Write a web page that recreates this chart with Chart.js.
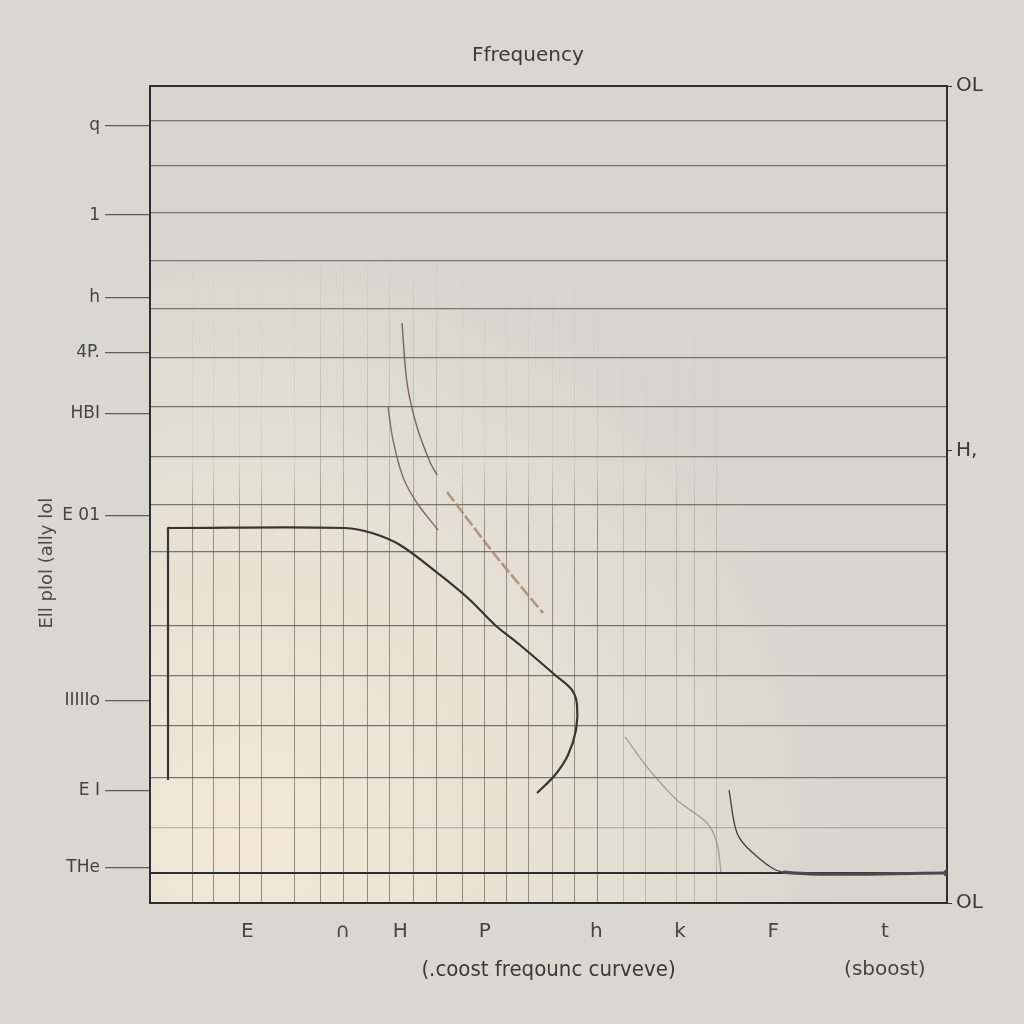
<!DOCTYPE html>
<html>
<head>
<meta charset="utf-8">
<title>Ffrequency</title>
<script src="https://cdn.jsdelivr.net/npm/chart.js@4.4.1/dist/chart.umd.min.js"></script>
<style>
  html, body { margin: 0; padding: 0; background: #d8d8d1; }
  #chart { display: block; }
</style>
</head>
<body>
<canvas id="chart" width="1024" height="1024"></canvas>
<script>
// plot units: x 0..100 left to right of the frame, y 0..100 bottom to top

// main frequency curve (dark)
const mainCurve = [
    { x: 2.26, y: 15.06 }, { x: 2.26, y: 45.6 }, { x: 2.26, y: 45.90 }, { x: 2.6, y: 45.90 },
    { x: 24.47, y: 45.90 },
    { x: 27.85, y: 45.29 }, { x: 31.37, y: 43.82 }, { x: 36.39, y: 40.15 },
    { x: 40.15, y: 37.09 }, { x: 43.29, y: 34.03 }, { x: 46.42, y: 31.58 },
    { x: 50.82, y: 27.91 }, { x: 52.95, y: 26.07 }, { x: 53.58, y: 24.24 },
    { x: 53.45, y: 21.18 }, { x: 52.45, y: 18.12 }, { x: 50.82, y: 15.67 },
    { x: 48.56, y: 13.46 }
];
// faint sketch strokes
const upperCurveA = [
    { x: 31.62, y: 70.99 }, { x: 32.25, y: 63.65 }, { x: 33.50, y: 58.26 },
    { x: 35.13, y: 53.98 }, { x: 36.01, y: 52.39 }
];
const upperCurveB = [
    { x: 29.86, y: 60.71 }, { x: 30.49, y: 56.67 }, { x: 31.74, y: 52.14 },
    { x: 33.50, y: 48.96 }, { x: 36.14, y: 45.65 }
];
const boostStroke = [
    { x: 37.26, y: 50.31 }, { x: 43.29, y: 42.60 }, { x: 49.31, y: 35.50 }
];
const lowerCurveD = [
    { x: 59.60, y: 20.32 }, { x: 62.36, y: 16.65 }, { x: 66.12, y: 12.61 },
    { x: 69.89, y: 9.79 }, { x: 71.14, y: 7.34 }, { x: 71.64, y: 3.79 }
];
const lowerCurveE = [
    { x: 72.65, y: 13.83 }, { x: 73.65, y: 8.57 }, { x: 75.66, y: 6.12 },
    { x: 79.42, y: 3.79 }, { x: 100, y: 3.67 }
];

// grid positions
const gridX = [5.27, 8.03, 11.17, 14.05, 18.07, 21.33, 24.34, 27.23, 29.99, 33.12, 36.01,
    39.15, 42.03, 44.79, 47.55, 50.44, 53.32, 56.21, 59.35, 62.23, 66.12, 68.38, 71.14];
const gridY = [95.8, 90.3, 84.5, 78.6, 72.8, 66.7, 60.7, 54.7, 48.8, 43.0, 34.0, 27.8,
    21.7, 15.3, 9.2, 3.7];
const baselineY = 3.7;

// tick labels
const xTickValues = [12.2, 24.2, 31.4, 42.0, 56.0, 66.5, 78.2, 92.2];
const xTickLabels = ['E', '\u2229', 'H', 'P', 'h', 'k', 'F', ['t', '(sboost)']];
const leftTickValues = [95.2, 84.2, 74.1, 67.4, 59.9, 47.4, 24.8, 13.8, 4.3];
const leftTickLabels = ['q', '1', 'h', '4P.', 'HBI', 'E 01', 'IIIIIo', 'E I', 'THe'];
const rightTickValues = [100, 55.4, 0];
const rightTickLabels = ['OL', 'H,', 'OL'];

const xLabelAt = new Map(xTickValues.map((v, i) => [v, xTickLabels[i]]));
const leftLabelAt = new Map(leftTickValues.map((v, i) => [v, leftTickLabels[i]]));
const rightLabelAt = new Map(rightTickValues.map((v, i) => [v, rightTickLabels[i]]));
const gridXSet = new Set(gridX);
const gridYSet = new Set(gridY);

const textFont = "'DejaVu Sans', sans-serif";
const narrowFont = "'Liberation Sans Narrow', 'DejaVu Sans Condensed', Roboto, sans-serif";

function vertColor(ctx) {
    const v = ctx.tick && ctx.tick.value;
    if (!gridXSet.has(v)) return 'rgba(0,0,0,0)';
    const k = v > 57 ? 0.45 : 1;
    const area = ctx.chart.chartArea;
    if (!area) return `rgba(115,108,96,${0.6 * k})`;
    // vertical lines only show in the lower part of the frame
    const g = ctx.chart.ctx.createLinearGradient(0, area.top, 0, area.bottom);
    const midOnly = v > 20 && v < 38 ? 1 : 0.25;
    g.addColorStop(0, 'rgba(115,108,96,0)');
    g.addColorStop(0.2, 'rgba(115,108,96,0)');
    g.addColorStop(0.46, `rgba(115,108,96,${0.35 * k * midOnly})`);
    g.addColorStop(0.54, `rgba(115,108,96,${0.7 * k})`);
    g.addColorStop(1, `rgba(115,108,96,${0.75 * k})`);
    return g;
}

function horizColor(ctx) {
    const v = ctx.tick && ctx.tick.value;
    if (v === baselineY) return '#2f2f2f';
    if (!gridYSet.has(v)) return 'rgba(0,0,0,0)';
    if (v === 9.2) return 'rgba(95,95,92,0.35)';
    return 'rgba(90,90,87,0.8)';
}

const paperPlugin = {
    id: 'paper',
    beforeDraw(chart) {
        const { ctx, chartArea: a, width, height } = chart;
        ctx.save();
        ctx.fillStyle = '#d8d8d1';
        ctx.fillRect(0, 0, width, height);
        ctx.fillStyle = '#d6d6ce';
        ctx.fillRect(a.left, a.top, a.right - a.left, a.bottom - a.top);
        const g = ctx.createRadialGradient(a.left + 90, a.bottom - 70, 10, a.left + 90, a.bottom - 70, 600);
        g.addColorStop(0, 'rgba(241,232,214,1)');
        g.addColorStop(0.55, 'rgba(236,228,212,0.75)');
        g.addColorStop(1, 'rgba(236,228,212,0)');
        ctx.fillStyle = g;
        ctx.fillRect(a.left, a.top, a.right - a.left, a.bottom - a.top);
        ctx.restore();
    },
    afterDraw(chart) {
        const { ctx, chartArea: a } = chart;
        ctx.save();
        ctx.strokeStyle = '#2e2e2e';
        ctx.lineWidth = 2;
        ctx.beginPath();
        ctx.moveTo(a.left, a.top);
        ctx.lineTo(a.right, a.top);
        ctx.stroke();
        ctx.restore();
    }
};

new Chart(document.getElementById('chart'), {
    type: 'scatter',
    data: {
        datasets: [
            { data: mainCurve, showLine: true, borderColor: '#3a3430', borderWidth: 2.2, pointRadius: 0, tension: 0.35 },
            { data: upperCurveA, showLine: true, borderColor: 'rgba(100,84,74,0.85)', borderWidth: 1.4, pointRadius: 0, tension: 0.3 },
            { data: upperCurveB, showLine: true, borderColor: 'rgba(110,92,80,0.85)', borderWidth: 1.4, pointRadius: 0, tension: 0.3 },
            { data: boostStroke, showLine: true, borderColor: 'rgba(160,125,104,0.75)', borderWidth: 2.6, borderDash: [12, 3], pointRadius: 0, tension: 0.2 },
            { data: lowerCurveD, showLine: true, borderColor: 'rgba(140,112,100,0.6)', borderWidth: 1.3, pointRadius: 0, tension: 0.3 },
            {
                data: lowerCurveE, showLine: true, borderColor: '#3d3d3d', borderWidth: 1.3, tension: 0.3,
                segment: { borderWidth: c => c.p0DataIndex >= 3 ? 3.2 : 1.3, borderColor: c => c.p0DataIndex >= 3 ? '#4a4a4e' : '#3d3d3d' },
                pointRadius: [0, 0, 0, 0, 3.5], pointBackgroundColor: '#4a4a4e', pointBorderWidth: 0
            }
        ]
    },
    options: {
        responsive: false,
        animation: false,
        layout: { padding: 0 },
        plugins: {
            legend: { display: false },
            tooltip: { enabled: false },
            title: {
                display: true,
                text: ' '.repeat(5) + 'Ffrequency',
                color: '#3a3a3a',
                font: { family: textFont, size: 20, weight: 'normal' },
                padding: { top: 44, bottom: 18 }
            }
        },
        scales: {
            x: {
                type: 'linear', min: 0, max: 100,
                afterBuildTicks: axis => {
                    axis.ticks = [...gridX, ...xTickValues].sort((a, b) => a - b).map(v => ({ value: v }));
                },
                afterFit: axis => { axis.height = 121; },
                ticks: {
                    autoSkip: false, maxRotation: 0, padding: 10, color: '#444',
                    font: { family: textFont, size: 20, lineHeight: 1.9 },
                    callback: v => xLabelAt.has(v) ? xLabelAt.get(v) : ''
                },
                grid: { drawTicks: false, color: vertColor, lineWidth: 1 },
                border: { display: true, color: '#2e2e2e', width: 2 },
                title: {
                    display: true, text: '(.coost freqounc curveve)', color: '#3a3a3a',
                    font: { family: narrowFont, size: 22 },
                    padding: { top: 0, bottom: 41 }
                }
            },
            y: {
                type: 'linear', position: 'left', min: 0, max: 100,
                afterBuildTicks: axis => {
                    axis.ticks = [...gridY, ...leftTickValues].sort((a, b) => a - b).map(v => ({ value: v }));
                },
                afterFit: axis => { axis.width = 150; },
                ticks: {
                    autoSkip: false, padding: 5, color: '#444',
                    font: { family: textFont, size: 17 },
                    callback: v => leftLabelAt.has(v) ? leftLabelAt.get(v) : ''
                },
                grid: {
                    color: horizColor,
                    lineWidth: c => (c.tick && c.tick.value === baselineY) ? 2 : 1.2,
                    tickLength: 45,
                    tickWidth: 1.2,
                    tickColor: c => (c.tick && leftLabelAt.has(c.tick.value)) ? 'rgba(60,60,60,0.8)' : 'rgba(0,0,0,0)'
                },
                border: { display: true, color: '#2e2e2e', width: 2 },
                title: {
                    display: true, text: 'Ell plol (ally lol' + ' '.repeat(24), color: '#4a4a4a',
                    font: { family: textFont, size: 18 },
                    padding: { top: 37, bottom: 0 }
                }
            },
            yR: {
                type: 'linear', position: 'right', min: 0, max: 100,
                afterBuildTicks: axis => {
                    axis.ticks = rightTickValues.map(v => ({ value: v }));
                },
                afterFit: axis => { axis.width = 77; },
                ticks: {
                    padding: 4, color: '#3a3a3a',
                    font: { family: textFont, size: 20 },
                    callback: v => rightLabelAt.has(v) ? rightLabelAt.get(v) : ''
                },
                grid: { drawOnChartArea: false, tickLength: 5, color: '#333' },
                border: { display: true, color: '#2e2e2e', width: 2 }
            }
        }
    },
    plugins: [paperPlugin]
});
</script>
</body>
</html>
